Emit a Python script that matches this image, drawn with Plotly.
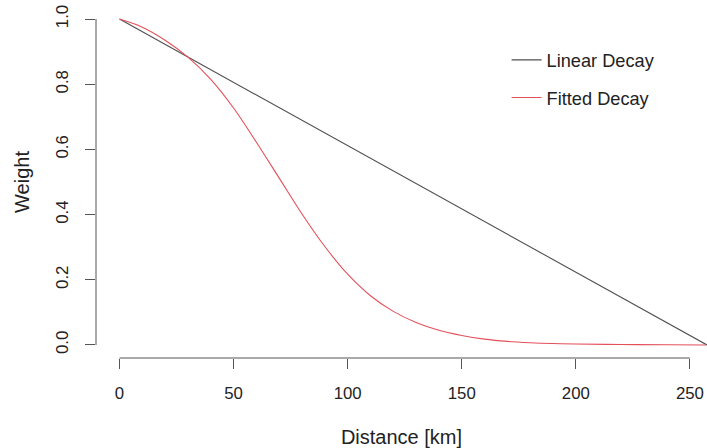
import plotly.graph_objects as go

# Data
distance_km = [0, 10, 20, 30, 40, 50, 60, 70, 80, 90, 100, 110, 120, 130, 140,
               150, 160, 170, 180, 190, 200, 220, 240, 257]
fitted_weight = [1.0, 0.975, 0.935, 0.883, 0.815, 0.727, 0.622, 0.512, 0.402, 0.302,
                 0.217, 0.151, 0.103, 0.069, 0.045, 0.029, 0.018, 0.011, 0.007,
                 0.0045, 0.003, 0.0013, 0.0005, 0.0]
linear_distance = [0, 257.5]
linear_weight = [1.0, 0.0]

x_ticks = [0, 50, 100, 150, 200, 250]
y_ticks = [0.0, 0.2, 0.4, 0.6, 0.8, 1.0]
series_names = ["Linear Decay", "Fitted Decay"]

FONT = "Liberation Sans, Arial, Helvetica, sans-serif"
TXT = "#222222"
AX = "#555555"

fig = go.Figure()
fig.add_trace(go.Scatter(x=linear_distance, y=linear_weight, mode="lines",
                         name=series_names[0], legendgroup="a",
                         line=dict(color="#505050", width=1.1)))
fig.add_trace(go.Scatter(x=distance_km, y=fitted_weight, mode="lines",
                         name=series_names[1], legendgroup="b",
                         line=dict(color="#e3505a", width=1.1, shape="spline", smoothing=1.0)))

# R-style axis lines spanning only first to last tick
fig.add_shape(type="line", xref="x", yref="paper", x0=x_ticks[0], x1=x_ticks[-1], y0=0, y1=0,
              line=dict(color=AX, width=1))
fig.add_shape(type="line", xref="paper", yref="y", x0=0, x1=0, y0=y_ticks[0], y1=y_ticks[-1],
              line=dict(color=AX, width=1))

fig.update_layout(
    width=707, height=448,
    margin=dict(l=96, r=0, t=6, b=90, autoexpand=False),
    paper_bgcolor="white", plot_bgcolor="white",
    font=dict(family=FONT, size=16.8, color=TXT),
    showlegend=True,
    legend=dict(x=0.672, y=0.899, xanchor="left", yanchor="top",
                bgcolor="rgba(0,0,0,0)", tracegroupgap=11,
                font=dict(family=FONT, size=18.2, color=TXT)),
    xaxis=dict(range=[-10.3, 257.5], tickvals=x_ticks, ticktext=[str(v) for v in x_ticks],
               showgrid=False, zeroline=False, showline=False, automargin=False,
               ticks="outside", ticklen=10, tickcolor=AX, ticklabelstandoff=10,
               title=dict(text="Distance [km]", standoff=28)),
    yaxis=dict(range=[-0.04, 1.04], tickvals=y_ticks, ticktext=[f"{v:.1f}" for v in y_ticks],
               tickangle=-90, showgrid=False, zeroline=False, showline=False, automargin=False,
               ticks="outside", ticklen=10, tickcolor=AX, ticklabelstandoff=10,
               title=dict(text="Weight", standoff=18)),
)

fig.write_html("out.html", config={"displayModeBar": False},
               post_script="document.body.style.margin='0';")
